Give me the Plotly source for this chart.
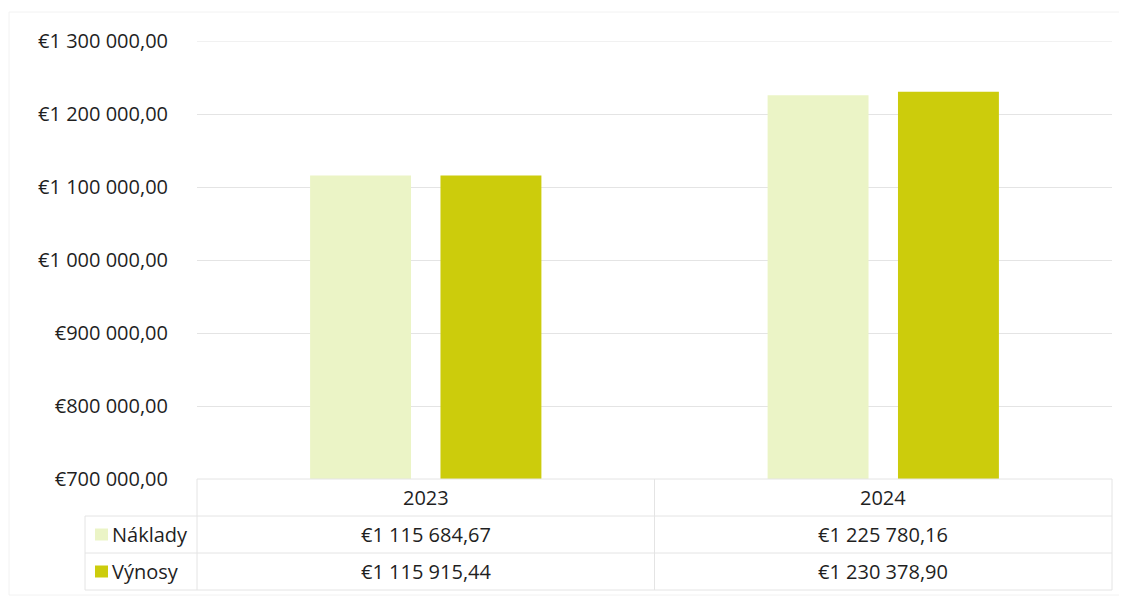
import plotly.graph_objects as go

categories = ["2023", "2024"]
series_names = ["Náklady", "Výnosy"]
naklady = [1115684.67, 1225780.16]
vynosy = [1115915.44, 1230378.90]
naklady_labels = ["€1 115 684,67", "€1 225 780,16"]
vynosy_labels = ["€1 115 915,44", "€1 230 378,90"]
tick_values = [700000, 800000, 900000, 1000000, 1100000, 1200000, 1300000]
tick_labels = ["€700 000,00", "€800 000,00", "€900 000,00", "€1 000 000,00",
               "€1 100 000,00", "€1 200 000,00", "€1 300 000,00"]

colors = ["#ebf4c6", "#cccc0c"]
FONT = "Open Sans"
FS = 20
TXT = "#1f1f1f"
LINE = "#e4e4e4"

# target page geometry (page pixels); the page body adds an 8px offset
OFF = 8
PW, PH = 1127, 598
PL, PR, PT, PB = 197, 1112, 41, 479   # plot area edges on the page

W, H = PW - OFF, PH - OFF
margin = dict(l=PL - OFF, r=W - (PR - OFF), t=PT - OFF, b=H - (PB - OFF))

def px(X):
    return (X - PL) / (PR - PL)

def py(Y):
    return (PB - Y) / (PB - PT)

fig = go.Figure()
for name, vals, col in zip(series_names, [naklady, vynosy], colors):
    fig.add_trace(go.Bar(x=categories, y=vals, name=name, marker_color=col,
                         marker_line_width=0, showlegend=False))

fig.update_layout(
    width=W, height=H,
    margin=margin,
    paper_bgcolor="white", plot_bgcolor="white",
    barmode="group", bargap=0.43, bargroupgap=0.226,
    font=dict(family=FONT, size=FS, color=TXT),
    xaxis=dict(showticklabels=False, showgrid=False, zeroline=False,
               showline=False, ticks="", automargin=False),
    yaxis=dict(range=[tick_values[0], tick_values[-1]], tickvals=tick_values, ticktext=tick_labels,
               showgrid=True, gridcolor=LINE, gridwidth=1, zeroline=False,
               showline=False, ticks="", ticklabelstandoff=28, automargin=False,
               tickfont=dict(family=FONT, size=FS, color=TXT)),
)

x_left = 85
x_mid = (PL + PR) / 2
rows_y = [PB, 516, 553, 590]

shapes = []
# top gridline (at the range end)
shapes.append(dict(type="line", xref="paper", yref="y", x0=0, x1=1,
                   y0=tick_values[-1], y1=tick_values[-1], line=dict(color=LINE, width=1),
                   layer="below"))
shapes.append(dict(type="line", xref="paper", yref="paper", x0=px(PL), x1=px(PR),
                   y0=py(rows_y[0]), y1=py(rows_y[0]), line=dict(color=LINE, width=1)))
for yy in rows_y[1:]:
    shapes.append(dict(type="line", xref="paper", yref="paper", x0=px(x_left), x1=px(PR),
                       y0=py(yy), y1=py(yy), line=dict(color=LINE, width=1)))
shapes.append(dict(type="line", xref="paper", yref="paper", x0=px(x_left), x1=px(x_left),
                   y0=py(rows_y[1]), y1=py(rows_y[3]), line=dict(color=LINE, width=1)))
for xx in [PL, x_mid, PR]:
    shapes.append(dict(type="line", xref="paper", yref="paper", x0=px(xx), x1=px(xx),
                       y0=py(rows_y[0]), y1=py(rows_y[3]), line=dict(color=LINE, width=1)))
for i, col in enumerate(colors):
    yc = (rows_y[i + 1] + rows_y[i + 2]) / 2
    shapes.append(dict(type="rect", xref="paper", yref="paper", x0=px(95), x1=px(108),
                       y0=py(yc + 6), y1=py(yc - 6), fillcolor=col, line=dict(width=0)))
shapes.append(dict(type="rect", xref="paper", yref="paper", x0=px(9), x1=px(1124),
                   y0=py(595), y1=py(12), line=dict(color="#f2f2f2", width=1)))
fig.update_layout(shapes=shapes)

annotations = []
col_centers = [(PL + x_mid) / 2, (x_mid + PR) / 2]
for c, cat in zip(col_centers, categories):
    annotations.append(dict(x=px(c), y=py((rows_y[0] + rows_y[1]) / 2), xref="paper", yref="paper",
                            text=cat, showarrow=False, xanchor="center", yanchor="middle"))
for r, labels in enumerate([naklady_labels, vynosy_labels]):
    yc = (rows_y[r + 1] + rows_y[r + 2]) / 2
    annotations.append(dict(x=px(110), y=py(yc), xref="paper", yref="paper",
                            text=series_names[r], showarrow=False, xanchor="left", yanchor="middle"))
    for c, lab in zip(col_centers, labels):
        annotations.append(dict(x=px(c), y=py(yc), xref="paper", yref="paper",
                                text=lab, showarrow=False, xanchor="center", yanchor="middle"))
fig.update_layout(annotations=annotations)

fig.write_html("out.html")
